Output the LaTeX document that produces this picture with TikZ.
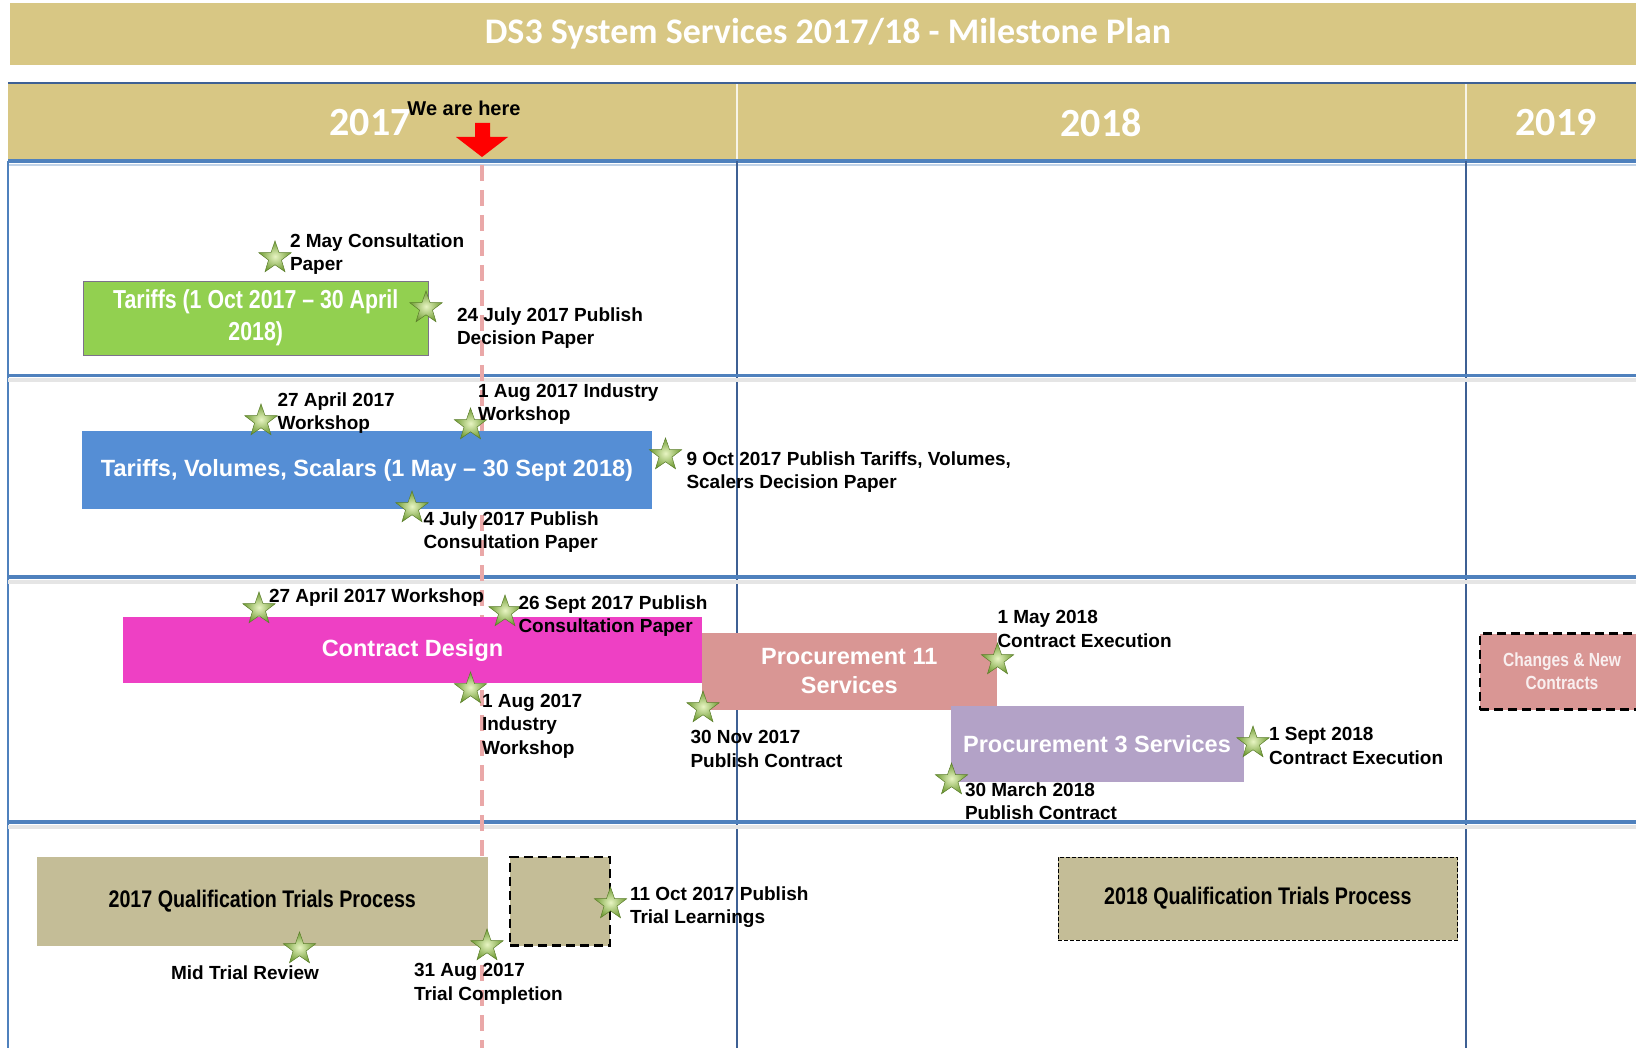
\documentclass[tikz,border=0pt]{standalone}
\usepackage{fontspec}
\setmainfont{Liberation Sans}
\newfontfamily\titlefont{Carlito}
\newfontfamily\narrowfont[FakeStretch=0.82]{Liberation Sans}
\usepackage{tikz}
\usetikzlibrary{shapes.geometric}
\definecolor{gold}{RGB}{216,199,132}
\definecolor{gridblue}{RGB}{79,129,189}
\definecolor{darkblue}{RGB}{62,96,148}
\definecolor{herered}{RGB}{234,168,168}
\definecolor{tariffgreen}{RGB}{146,208,80}
\definecolor{volblue}{RGB}{85,142,213}
\definecolor{designpink}{RGB}{238,64,196}
\definecolor{procrose}{RGB}{217,150,148}
\definecolor{proclilac}{RGB}{179,162,199}
\definecolor{trialtan}{RGB}{196,189,151}
\definecolor{stargreen}{RGB}{112,156,52}
\definecolor{starlight}{RGB}{232,245,195}
\tikzset{
        every node/.style={inner sep=0pt,outer sep=0pt},
        milestone/.style={star,star points=5,star point ratio=2.5,minimum size=34pt,
                draw=stargreen!80!black,line width=0.5pt,inner color=starlight,outer color=stargreen},
        lbl/.style={align=left,anchor=west,font=\fontsize{19}{23.5}\selectfont\bfseries},
        taskbar/.style={text=white,align=center,font=\fontsize{23.5}{29}\selectfont\bfseries},
        trialbar/.style={fill=trialtan,text=black,align=center,font=\narrowfont\fontsize{24}{29}\selectfont\bfseries},
        yearlbl/.style={text=white,font=\titlefont\bfseries\fontsize{40}{44}\selectfont},
        rowline/.style={gridblue,line width=3.5pt},
        colline/.style={darkblue,line width=1.6pt},
        }

\begin{document}
\begin{tikzpicture}[x=1pt,y=-1pt]
    \useasboundingbox (0,0) rectangle (1636,1048);

    % title bar.....................
    \fill[gold] (10,3) rectangle (1636,65);
    \node[text=white,font=\titlefont\bfseries\fontsize{36}{40}\selectfont] (title) at (828,34) {DS3 System Services 2017/18 - Milestone Plan};

    % year header.....................
    \fill[gold] (8,84) rectangle (1636,161);
    \draw[white!80!gold,line width=1.5pt] (737,84) -- (737,161);
    \draw[white!80!gold,line width=1.5pt] (1466,84) -- (1466,161);
    \draw[darkblue,line width=2.5pt] (8,83) -- (1636,83);
    \draw[gridblue!35,line width=2.5pt] (8,165) -- (1636,165);
    \draw[rowline] (8,161) -- (1636,161);
    \node[yearlbl] (y17) at (370,123) {2017};
    \node[yearlbl] (y18) at (1101,123) {2018};
    \node[yearlbl] (y19) at (1556,123) {2019};

    % grid.....................
    \draw[gridblue,line width=1.2pt] (8,161) -- (8,1048);
    \draw[colline] (737,161) -- (737,1048);
    \draw[colline] (1466,161) -- (1466,1048);
    \foreach \y in {375.5,577,822}{
        \draw[black!10,line width=4pt] (8,\y+5) -- (1636,\y+5);
        \draw[rowline] (8,\y) -- (1636,\y);
    }

    % we are here.....................
    \draw[herered,line width=4pt,dash pattern=on 16pt off 9pt] (482,165) -- (482,1048);
    \fill[red] (475,123) -- (490,123) -- (490,137) -- (508,137) -- (482,157) -- (456,137) -- (475,137) -- cycle;
    \node[font=\fontsize{20}{24}\selectfont\bfseries] (here) at (464,108) {We are here};

    % tariffs.....................
    \node[taskbar,fill=tariffgreen,draw=black!30!proclilac,line width=0.8pt,minimum width=344.5pt,minimum height=74pt,
          font=\narrowfont\fontsize{26}{31.5}\selectfont\bfseries] (tariffs) at (255.75,318) {Tariffs (1 Oct 2017 – 30 April\\2018)};
    \node[taskbar,fill=volblue,minimum width=570pt,minimum height=78pt] (tvs) at (367,470) {Tariffs, Volumes, Scalars (1 May – 30 Sept 2018)};

    % contracts.....................
    \node[taskbar,fill=designpink,minimum width=579pt,minimum height=66.5pt] (design) at (412.5,650) {Contract Design};
    \node[taskbar,fill=procrose,minimum width=294.5pt,minimum height=76.5pt] (proc11) at (849.25,671.5) {Procurement 11\\Services};
    \node[taskbar,fill=proclilac,minimum width=293pt,minimum height=75.5pt] (proc3) at (1097,743.75) {Procurement 3 Services};
    \node[taskbar,fill=procrose,draw=black,line width=2.5pt,dash pattern=on 9pt off 5pt,minimum width=164pt,minimum height=76pt,
          text=white!85!procrose,font=\narrowfont\fontsize{19}{23}\selectfont\bfseries] (changes) at (1562,671.5) {Changes \& New\\Contracts};

    % trials.....................
    \node[trialbar,minimum width=451.5pt,minimum height=88.5pt] (qt17) at (262.25,901.25) {2017 Qualification Trials Process};
    \node[trialbar,draw=black,line width=2.5pt,dash pattern=on 9pt off 5pt,minimum width=100pt,minimum height=88.5pt] (qtgap) at (560,901.25) {};
    \node[trialbar,draw=black,line width=0.8pt,dash pattern=on 4pt off 2pt,minimum width=399.5pt,minimum height=83pt] (qt18) at (1257.8,898.5) {2018 Qualification Trials Process};

    % milestones.....................
    \node[milestone] (s1) at (275,258) {};
    \node[milestone] (s2) at (426,308) {};
    \node[milestone] (s3) at (261,421) {};
    \node[milestone] (s4) at (470.5,425) {};
    \node[milestone] (s5) at (665.5,455) {};
    \node[milestone] (s6) at (412,508) {};
    \node[milestone] (s7) at (259,609) {};
    \node[milestone] (s8) at (505,612) {};
    \node[milestone] (s9) at (470.5,689) {};
    \node[milestone] (s10) at (703,708) {};
    \node[milestone] (s11) at (997.5,660) {};
    \node[milestone] (s12) at (1253,743) {};
    \node[milestone] (s13) at (951.5,780) {};
    \node[milestone] (s14) at (299.5,949) {};
    \node[milestone] (s15) at (487,946) {};
    \node[milestone] (s16) at (610.5,904) {};

    % milestone labels.....................
    \node[lbl] (l1) at (290,254) {2 May Consultation\\Paper};
    \node[lbl] (l2) at (457,328) {24 July 2017 Publish\\Decision Paper};
    \node[lbl] (l3) at (277.5,413) {27 April 2017\\Workshop};
    \node[lbl] (l4) at (478,404) {1 Aug 2017 Industry\\Workshop};
    \node[lbl] (l5) at (686.5,472) {9 Oct 2017 Publish Tariffs, Volumes,\\Scalers Decision Paper};
    \node[lbl] (l6) at (423.5,532) {4 July 2017 Publish\\Consultation Paper};
    \node[lbl] (l7) at (269,598) {27 April 2017 Workshop};
    \node[lbl] (l8) at (518.5,616) {26 Sept 2017 Publish\\Consultation Paper};
    \node[lbl] (l9) at (482,726) {1 Aug 2017\\Industry\\Workshop};
    \node[lbl] (l10) at (690.5,749) {30 Nov 2017\\Publish Contract};
    \node[lbl] (l11) at (997.5,629) {1 May 2018\\Contract Execution};
    \node[lbl] (l12) at (1269,746) {1 Sept 2018\\Contract Execution};
    \node[lbl] (l13) at (965,801) {30 March 2018\\Publish Contract};
    \node[lbl,anchor=center] (l14) at (245,973) {Mid Trial Review};
    \node[lbl] (l15) at (414,984) {31 Aug 2017\\Trial Completion};
    \node[lbl] (l16) at (630,907) {11 Oct 2017 Publish\\Trial Learnings};
\end{tikzpicture}
\end{document}
